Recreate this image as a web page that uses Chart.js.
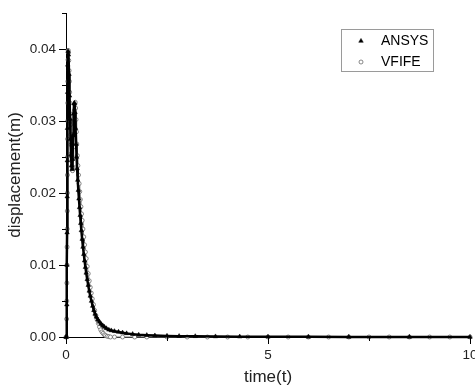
<!DOCTYPE html>
<html><head><meta charset="utf-8">
<script src="https://cdn.jsdelivr.net/npm/chart.js@4"></script>
<style>html,body{margin:0;padding:0;background:#fff;overflow:hidden}</style>
</head><body>
<canvas id="c" width="475" height="388"></canvas>
<script>
const seriesLabels = ['ANSYS', 'VFIFE'];
const xTitle = 'time(t)';
const yTitle = 'displacement(m)';
const xMajorTicks = [0, 5, 10];
const yMajorTicks = [0.00, 0.01, 0.02, 0.03, 0.04];

const ansysTime = [0, 0.010, 0.020, 0.024, 0.027, 0.030, 0.033, 0.036, 0.040, 0.044,
  0.050, 0.062, 0.075, 0.087, 0.100, 0.112, 0.125, 0.137, 0.150, 0.162,
  0.175, 0.187, 0.200, 0.212, 0.225, 0.237, 0.250, 0.262, 0.275, 0.290,
  0.305, 0.320, 0.335, 0.350, 0.365, 0.380, 0.400, 0.420, 0.440, 0.460,
  0.480, 0.500, 0.525, 0.550, 0.575, 0.600, 0.630, 0.660, 0.690, 0.720,
  0.750, 0.790, 0.830, 0.870, 0.910, 0.950, 1.000, 1.060, 1.120, 1.200,
  1.300, 1.400, 1.500, 1.650, 1.800, 2.000, 2.200, 2.500, 2.800, 3.200,
  3.700, 4.300, 5.000, 6.000, 7.000, 8.500, 10.00];
const ansysDisp = [0, 0.0000, 0.0045, 0.0100, 0.0145, 0.0195, 0.0245, 0.0290, 0.0340, 0.0378,
  0.0397, 0.0392, 0.0365, 0.0335, 0.0303, 0.0275, 0.0253, 0.0238, 0.0233, 0.0247,
  0.0280, 0.0310, 0.0324, 0.0325, 0.0312, 0.0290, 0.0268, 0.0250, 0.0234, 0.0218,
  0.0204, 0.0192, 0.0180, 0.0169, 0.0158, 0.0148, 0.0136, 0.0125, 0.0115, 0.0106,
  0.0097, 0.0089, 0.0080, 0.0072, 0.0064, 0.0057, 0.0050, 0.0043, 0.0037, 0.0032,
  0.0028, 0.0024, 0.0021, 0.0018, 0.0016, 0.0014, 0.0012, 0.0010, 0.0009, 0.0008,
  0.0007, 0.0006, 0.0005, 0.0004, 0.0003, 0.00025, 0.0002, 0.00015, 0.00012, 0.0001,
  0.00007, 0.00005, 0.00003, 0.00002, 0.00001, 0.00001, 0];

const vfifeTime = [0, 0.012, 0.016, 0.019, 0.022, 0.025, 0.027, 0.029, 0.031, 0.033,
  0.035, 0.037, 0.039, 0.041, 0.043, 0.046, 0.050, 0.056, 0.063, 0.070,
  0.077, 0.084, 0.091, 0.098, 0.105, 0.112, 0.119, 0.126, 0.133, 0.140,
  0.147, 0.155, 0.163, 0.171, 0.179, 0.187, 0.195, 0.203, 0.211, 0.219,
  0.228, 0.238, 0.248, 0.258, 0.268, 0.280, 0.295, 0.310, 0.325, 0.340,
  0.355, 0.370, 0.385, 0.400, 0.420, 0.440, 0.460, 0.480, 0.500, 0.525,
  0.550, 0.575, 0.600, 0.625, 0.650, 0.680, 0.710, 0.740, 0.770, 0.800,
  0.830, 0.860, 0.890, 0.920, 0.950, 0.980, 1.020, 1.060, 1.100, 1.200,
  1.400, 1.700, 2.000, 2.500, 3.000, 3.500, 4.000, 4.500, 5.000, 5.500,
  6.000, 6.500, 7.000, 7.500, 8.000, 8.500, 9.000, 9.500, 10.00];
const vfifeDisp = [0, 0, 0.0025, 0.0050, 0.0075, 0.0100, 0.0125, 0.0150, 0.0175, 0.0200,
  0.0225, 0.0250, 0.0275, 0.0300, 0.0325, 0.0355, 0.0385, 0.0398, 0.0395, 0.0384,
  0.0370, 0.0355, 0.0340, 0.0325, 0.0310, 0.0295, 0.0281, 0.0267, 0.0255, 0.0245,
  0.0237, 0.0232, 0.0231, 0.0236, 0.0248, 0.0264, 0.0282, 0.0300, 0.0315, 0.0324,
  0.0326, 0.0318, 0.0302, 0.0285, 0.0268, 0.0252, 0.0238, 0.0225, 0.0213, 0.0202,
  0.0191, 0.0181, 0.0171, 0.0162, 0.0150, 0.0139, 0.0128, 0.0118, 0.0109, 0.0098,
  0.0088, 0.0078, 0.0069, 0.0061, 0.0053, 0.0045, 0.0037, 0.0030, 0.0024, 0.0019,
  0.0014, 0.0010, 0.0007, 0.0005, 0.0003, 0.0002, 0.0001, 0.00005, 0, 0,
  0, 0, 0, 0, 0, 0, 0, 0, 0, 0,
  0, 0, 0, 0, 0, 0, 0, 0, 0];

const FONT = '"Liberation Sans", Arial, sans-serif';
const isMajor = (v, list) => list.some(m => Math.abs(m - v) < 1e-9);

const tickPlugin = {
  id: 'originTicks',
  afterDraw(chart) {
    const ctx = chart.ctx, xs = chart.scales.x, ys = chart.scales.y, a = chart.chartArea;
    ctx.save();
    ctx.strokeStyle = '#000';
    ctx.lineWidth = 1;
    xs.ticks.forEach(t => {
      const px = Math.round(xs.getPixelForValue(t.value)) + 0.5;
      const len = isMajor(t.value, xMajorTicks) ? 7 : 4;
      ctx.beginPath(); ctx.moveTo(px, a.bottom); ctx.lineTo(px, a.bottom + len); ctx.stroke();
    });
    ys.ticks.forEach(t => {
      const py = Math.round(ys.getPixelForValue(t.value)) + 0.5;
      const len = isMajor(t.value, yMajorTicks) ? 7 : 4;
      ctx.beginPath(); ctx.moveTo(a.left, py); ctx.lineTo(a.left - len, py); ctx.stroke();
    });
    ctx.restore();
  }
};

const legendPlugin = {
  id: 'boxLegend',
  afterDraw(chart) {
    const ctx = chart.ctx;
    ctx.save();
    ctx.strokeStyle = '#9a9a9a';
    ctx.lineWidth = 1;
    ctx.strokeRect(341.5, 29.5, 92, 42);
    chart.data.datasets.forEach((ds, i) => {
      const y = 41 + i * 21;
      ctx.fillStyle = ds.pointBackgroundColor;
      ctx.strokeStyle = ds.pointBorderColor;
      ctx.lineWidth = ds.pointBorderWidth;
      Chart.helpers.drawPoint(ctx, {pointStyle: ds.pointStyle, radius: ds.pointRadius, borderWidth: ds.pointBorderWidth, rotation: 0}, 361, y);
      ctx.fillStyle = '#000';
      ctx.font = '14px ' + FONT;
      ctx.textBaseline = 'middle';
      ctx.textAlign = 'left';
      ctx.fillText(ds.label, 381, y + 0.5);
    });
    ctx.restore();
  }
};

const toXY = (ts, ys) => ts.map((t, i) => ({x: t, y: ys[i]}));

new Chart(document.getElementById('c'), {
  type: 'scatter',
  data: {
    datasets: [
      {
        label: seriesLabels[0],
        data: toXY(ansysTime, ansysDisp),
        showLine: true,
        borderColor: '#000',
        borderWidth: 2.5,
        pointStyle: 'triangle',
        pointRadius: 2.6,
        pointBackgroundColor: '#000',
        pointBorderColor: '#000',
        pointBorderWidth: 0.5,
        clip: false
      },
      {
        label: seriesLabels[1],
        data: toXY(vfifeTime, vfifeDisp),
        showLine: true,
        borderColor: '#7a7a7a',
        borderWidth: 1.2,
        pointStyle: 'circle',
        pointRadius: 2,
        pointBackgroundColor: '#fff',
        pointBorderColor: '#6a6a6a',
        pointBorderWidth: 0.8,
        clip: false
      }
    ]
  },
  options: {
    responsive: false,
    animation: false,
    events: [],
    layout: {padding: {top: 13, right: 5, left: 0, bottom: 0}},
    plugins: {legend: {display: false}, tooltip: {enabled: false}},
    scales: {
      x: {
        type: 'linear',
        min: 0, max: 10,
        grid: {display: false, drawTicks: false},
        border: {display: true, color: '#000', width: 1},
        ticks: {
          stepSize: 2.5,
          padding: 10,
          color: '#222',
          font: {family: FONT, size: 13.5},
          maxRotation: 0,
          autoSkip: false,
          callback: v => isMajor(v, xMajorTicks) ? String(v) : ''
        },
        title: {display: true, text: xTitle, color: '#222', font: {family: FONT, size: 17}, padding: {top: 0, bottom: 0}},
        afterFit(s) { s.height = 51; s.paddingLeft = 0; s.paddingRight = 0; }
      },
      y: {
        type: 'linear',
        min: 0, max: 0.045,
        grid: {display: false, drawTicks: false},
        border: {display: true, color: '#000', width: 1},
        ticks: {
          stepSize: 0.005,
          padding: 10,
          color: '#222',
          font: {family: FONT, size: 13.5},
          autoSkip: false,
          callback: v => isMajor(v, yMajorTicks) ? v.toFixed(2) : ''
        },
        title: {display: true, text: yTitle, color: '#222', font: {family: FONT, size: 17}, padding: {top: 5, bottom: 0}},
        afterFit(s) { s.width = 66; s.paddingTop = 0; s.paddingBottom = 0; }
      }
    }
  },
  plugins: [tickPlugin, legendPlugin]
});
</script>
</body></html>
